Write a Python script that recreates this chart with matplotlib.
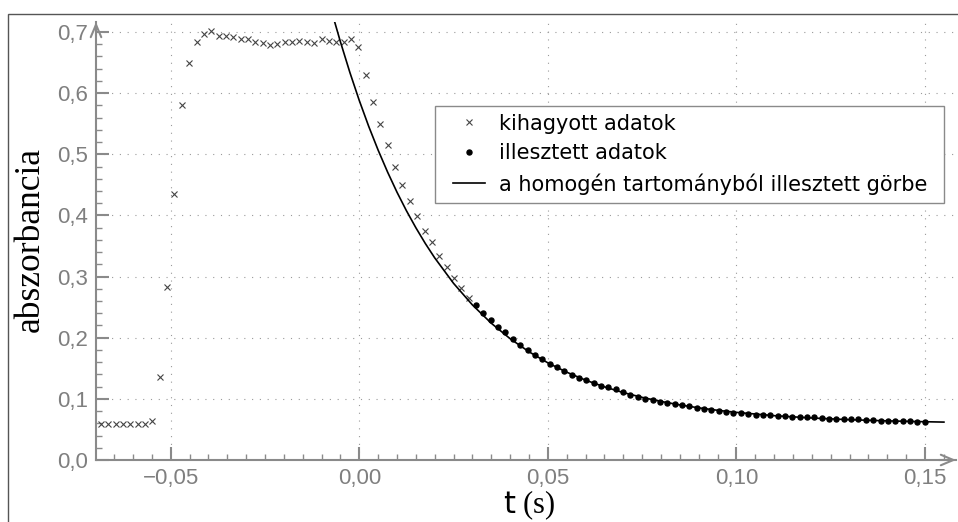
import matplotlib
matplotlib.use("Agg")
import matplotlib.pyplot as plt
from matplotlib.ticker import MultipleLocator, FuncFormatter

# excluded samples (crosses)
t_kihagyott = [
    -0.06850, -0.06655, -0.06460, -0.06265, -0.06070, -0.05875, -0.05680, -0.05485,
    -0.05290, -0.05095, -0.04900, -0.04705, -0.04510, -0.04315, -0.04120, -0.03925,
    -0.03730, -0.03535, -0.03340, -0.03145, -0.02950, -0.02755, -0.02560, -0.02365,
    -0.02170, -0.01975, -0.01780, -0.01585, -0.01390, -0.01195, -0.01000, -0.00805,
    -0.00610, -0.00415, -0.00220, -0.00025, 0.00170, 0.00365, 0.00560, 0.00755,
    0.00950, 0.01145, 0.01340, 0.01535, 0.01730, 0.01925, 0.02120, 0.02315,
    0.02510, 0.02705, 0.02900,
]
a_kihagyott = [
    0.059, 0.059, 0.0595, 0.059, 0.059, 0.0585, 0.0585, 0.063,
    0.136, 0.2835, 0.4345, 0.580, 0.649, 0.6837, 0.6967, 0.7017,
    0.693, 0.6935, 0.6915, 0.689, 0.689, 0.6837, 0.6815, 0.679,
    0.680, 0.6837, 0.6837, 0.6847, 0.6845, 0.6825, 0.688, 0.6847,
    0.6837, 0.683, 0.688, 0.675, 0.629, 0.5855, 0.550, 0.5147,
    0.480, 0.4503, 0.4236, 0.3996, 0.3745, 0.356, 0.3337, 0.315,
    0.297, 0.282, 0.2655,
]

# fitted samples (dots)
t_illesztett = [
    0.03095, 0.03290, 0.03485, 0.03680, 0.03875, 0.04070, 0.04265, 0.04460,
    0.04655, 0.04850, 0.05045, 0.05240, 0.05435, 0.05630, 0.05825, 0.06020,
    0.06215, 0.06410, 0.06605, 0.06800, 0.06995, 0.07190, 0.07385, 0.07580,
    0.07775, 0.07970, 0.08165, 0.08360, 0.08555, 0.08750, 0.08945, 0.09140,
    0.09335, 0.09530, 0.09725, 0.09920, 0.10115, 0.10310, 0.10505, 0.10700,
    0.10895, 0.11090, 0.11285, 0.11480, 0.11675, 0.11870, 0.12065, 0.12260,
    0.12455, 0.12650, 0.12845, 0.13040, 0.13235, 0.13430, 0.13625, 0.13820,
    0.14015, 0.14210, 0.14405, 0.14600, 0.14795, 0.14990,
]
a_illesztett = [
    0.253, 0.240, 0.2285, 0.218, 0.2088, 0.1974, 0.1876, 0.1804,
    0.1723, 0.1647, 0.1575, 0.1516, 0.1456, 0.1396, 0.1347, 0.1304,
    0.126, 0.1216, 0.119, 0.1156, 0.1107, 0.1069, 0.1036, 0.1003,
    0.0976, 0.0954, 0.0937, 0.0916, 0.090, 0.0878, 0.0856, 0.084,
    0.0823, 0.0807, 0.079, 0.0774, 0.0769, 0.0752, 0.0736, 0.074,
    0.074, 0.0725, 0.0714, 0.0709, 0.0709, 0.0703, 0.0698, 0.0687,
    0.0671, 0.0676, 0.0671, 0.0665, 0.0665, 0.065, 0.065, 0.0644,
    0.0644, 0.0644, 0.0644, 0.0633, 0.0627, 0.0627,
]

# fitted curve
t_gorbe = [
    -0.0065, -0.005, -0.0025, 0.0, 0.0025, 0.005, 0.0075, 0.01, 0.0125, 0.015,
    0.0175, 0.02, 0.025, 0.03, 0.035, 0.04, 0.045, 0.05, 0.055, 0.06, 0.065,
    0.07, 0.075, 0.08, 0.085, 0.09, 0.095, 0.10, 0.11, 0.12, 0.13, 0.14, 0.15, 0.155,
]
a_gorbe = [
    0.716, 0.684, 0.634, 0.588, 0.5457, 0.5068, 0.471, 0.438, 0.4077, 0.3799,
    0.3542, 0.3306, 0.2889, 0.2536, 0.2237, 0.1984, 0.1770, 0.1589, 0.1436, 0.1306, 0.1196,
    0.1103, 0.1024, 0.0958, 0.0901, 0.0853, 0.0813, 0.0779, 0.0725, 0.0687, 0.0659, 0.0640, 0.0626, 0.0620,
]

labels = ["kihagyott adatok", "illesztett adatok", "a homogén tartományból illesztett görbe"]

gray = "#8a8a8a"
plt.rcParams["mathtext.fontset"] = "custom"
plt.rcParams["mathtext.sf"] = "DejaVu Sans"
plt.rcParams["mathtext.rm"] = "Liberation Serif"

W, H = 958, 522
fig = plt.figure(figsize=(W / 100, H / 100), dpi=100)
ax = fig.add_axes([96 / W, 62 / H, 860 / W, 438 / H])
AW, AH = 860, 438  # axes size in px, origin at (96, 460) from top-left


def px(x, y):
    # picture pixel -> axes fraction
    return (x - 96) / AW, (460 - y) / AH


ax.plot(t_kihagyott, a_kihagyott, ls="none", marker="x", ms=4.5, mew=0.8,
        color="#444444", label=labels[0])
ax.plot(t_illesztett, a_illesztett, ls="none", marker="o", ms=3.6,
        color="black", label=labels[1])
ax.plot(t_gorbe, a_gorbe, color="black", lw=1.2, label=labels[2])

ax.set_xlim(-0.0698, 0.1582)
ax.set_ylim(0, 0.7164)

for s in ("top", "right"):
    ax.spines[s].set_visible(False)
for s in ("left", "bottom"):
    ax.spines[s].set_color(gray)
    ax.spines[s].set_linewidth(1.5)

ax.xaxis.set_major_locator(MultipleLocator(0.05))
ax.xaxis.set_minor_locator(MultipleLocator(0.005))
ax.yaxis.set_major_locator(MultipleLocator(0.1))
ax.yaxis.set_minor_locator(MultipleLocator(0.02))
ax.xaxis.set_major_formatter(FuncFormatter(
    lambda v, p: f"{v:.2f}".replace(".", ",").replace("-", "\u2212")))
ax.yaxis.set_major_formatter(FuncFormatter(lambda v, p: f"{v:.1f}".replace(".", ",")))

ax.tick_params(which="major", direction="in", length=9.5, width=1.5, color=gray,
               labelcolor="#7f7f7f", labelsize=16, pad=6)
ax.tick_params(which="minor", direction="in", length=4.5, width=1.0, color=gray)
for lab in ax.get_xticklabels() + ax.get_yticklabels():
    lab.set_fontfamily("Liberation Sans")

ax.grid(True, which="major", color="#9a9a9a", lw=0.8, ls=(0, (1, 6)))

# arrow heads on the axes
arrow = dict(arrowstyle="->,head_length=0.9,head_width=0.38", color=gray, lw=1.5,
             shrinkA=0, shrinkB=0)
ax.annotate("", xy=(0, 1.0), xytext=(0, 0.97), xycoords="axes fraction",
            arrowprops=arrow, annotation_clip=False)
ax.annotate("", xy=(1.0, 0), xytext=(0.98, 0), xycoords="axes fraction",
            arrowprops=arrow, annotation_clip=False)

ax.text(*px(30, 239), "abszorbancia", rotation=90, ha="center", va="center",
        transform=ax.transAxes, fontsize=25.5, family="Liberation Serif")
ax.text(*px(529, 513), r"$\mathsf{t}$ (s)", ha="center", va="baseline",
        transform=ax.transAxes, fontsize=22, family="Liberation Serif")

# legend box drawn separately so the padding can match the original
x0, y0 = px(435, 203)
x1, y1 = px(944, 106)
ax.add_patch(plt.Rectangle((x0, y0), x1 - x0, y1 - y0, transform=ax.transAxes,
                           fc="white", ec=gray, lw=1.0, zorder=4.5, clip_on=False))
leg = ax.legend(loc="upper left", bbox_to_anchor=px(453, 113.5),
                borderaxespad=0, borderpad=0, frameon=False,
                prop={"family": "DejaVu Sans", "size": 15}, handlelength=1.54,
                handletextpad=0.66, labelspacing=0.47)
leg.set_zorder(5)

# outer frame of the original page
fig.add_artist(plt.Rectangle((8 / W, -1), 2, 1 + (H - 14) / H, transform=fig.transFigure,
                             fill=False, ec="#555555", lw=1.0))

fig.savefig("out.png", dpi=100)
